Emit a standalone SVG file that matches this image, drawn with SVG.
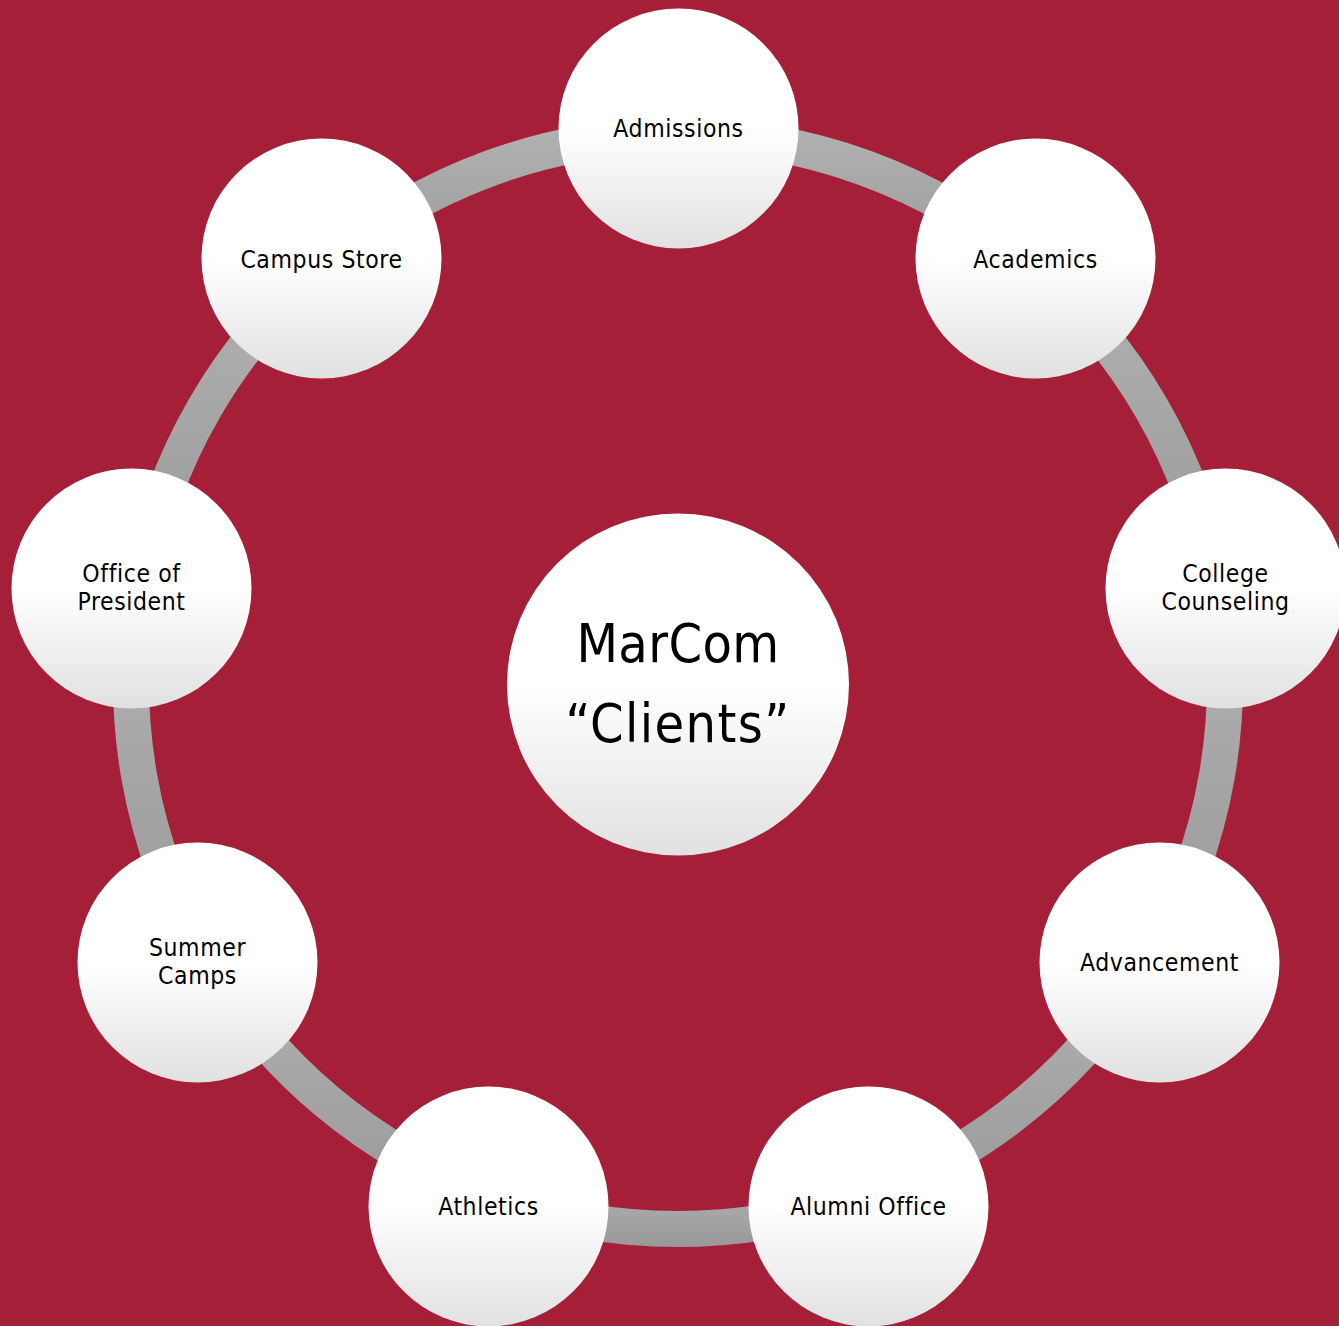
<svg xmlns="http://www.w3.org/2000/svg" width="1339" height="1326" viewBox="0 0 1339 1326">
  <defs>
    <linearGradient id="bubble" x1="0" y1="0" x2="0" y2="1">
      <stop offset="0" stop-color="#ffffff"/>
      <stop offset="0.5" stop-color="#ffffff"/>
      <stop offset="1" stop-color="#e1e1e1"/>
    </linearGradient>
    <linearGradient id="band" x1="0" y1="0" x2="0" y2="1">
      <stop offset="0" stop-color="#b3b3b3"/>
      <stop offset="1" stop-color="#999999"/>
    </linearGradient>
    <style>
      .ring { fill: url(#band); }
      .bubble { fill: url(#bubble); }
      .label { font-family: "DejaVu Sans Condensed", "DejaVu Sans", sans-serif; font-size: 24.5px; letter-spacing: 0.6px; fill: #000; text-anchor: middle; }
      .title { font-family: "DejaVu Sans Condensed", "DejaVu Sans", sans-serif; font-size: 53.5px; letter-spacing: 0.4px; fill: #000; text-anchor: middle; }
      .quoted { letter-spacing: 1.4px; }
    </style>
  </defs>

  <rect width="1339" height="1326" fill="#a41f37"/>

  <!-- ring segments between neighbouring nodes (annular sectors, 40° each) -->
  <g id="connectors">
    <path class="ring" d="M678,117 A565,565 0 0 1 1041.2,249.2 L1018,276.8 A529,529 0 0 0 678,153 Z"/>
    <path class="ring" d="M1041.2,249.2 A565,565 0 0 1 1234.4,583.9 L1199,590.2 A529,529 0 0 0 1018,276.8 Z"/>
    <path class="ring" d="M1234.4,583.9 A565,565 0 0 1 1167.3,964.5 L1136.1,946.5 A529,529 0 0 0 1199,590.2 Z"/>
    <path class="ring" d="M1167.3,964.5 A565,565 0 0 1 871.2,1212.9 L858.9,1179.1 A529,529 0 0 0 1136.1,946.5 Z"/>
    <path class="ring" d="M871.2,1212.9 A565,565 0 0 1 484.8,1212.9 L497.1,1179.1 A529,529 0 0 0 858.9,1179.1 Z"/>
    <path class="ring" d="M484.8,1212.9 A565,565 0 0 1 188.7,964.5 L219.9,946.5 A529,529 0 0 0 497.1,1179.1 Z"/>
    <path class="ring" d="M188.7,964.5 A565,565 0 0 1 121.6,583.9 L157,590.2 A529,529 0 0 0 219.9,946.5 Z"/>
    <path class="ring" d="M121.6,583.9 A565,565 0 0 1 314.8,249.2 L338,276.8 A529,529 0 0 0 157,590.2 Z"/>
    <path class="ring" d="M314.8,249.2 A565,565 0 0 1 678,117 L678,153 A529,529 0 0 0 338,276.8 Z"/>
  </g>

  <g id="admissions">
    <circle class="bubble" cx="678.5" cy="128.5" r="120"/>
    <text class="label" x="678.5" y="137">Admissions</text>
  </g>
  <g id="academics">
    <circle class="bubble" cx="1035.5" cy="258.5" r="120"/>
    <text class="label" x="1035.5" y="268">Academics</text>
  </g>
  <g id="college-counseling">
    <circle class="bubble" cx="1225.5" cy="588.5" r="120"/>
    <text class="label" x="1225.5" y="582">College</text>
    <text class="label" x="1225.5" y="610">Counseling</text>
  </g>
  <g id="advancement">
    <circle class="bubble" cx="1159.5" cy="962.5" r="120"/>
    <text class="label" x="1159.5" y="971">Advancement</text>
  </g>
  <g id="alumni-office">
    <circle class="bubble" cx="868.5" cy="1206.5" r="120"/>
    <text class="label" x="868.5" y="1215">Alumni Office</text>
  </g>
  <g id="athletics">
    <circle class="bubble" cx="488.5" cy="1206.5" r="120"/>
    <text class="label" x="488.5" y="1215">Athletics</text>
  </g>
  <g id="summer-camps">
    <circle class="bubble" cx="197.5" cy="962.5" r="120"/>
    <text class="label" x="197.5" y="956">Summer</text>
    <text class="label" x="197.5" y="984">Camps</text>
  </g>
  <g id="office-of-president">
    <circle class="bubble" cx="131.5" cy="588.5" r="120"/>
    <text class="label" x="131.5" y="582">Office of</text>
    <text class="label" x="131.5" y="610">President</text>
  </g>
  <g id="campus-store">
    <circle class="bubble" cx="321.5" cy="258.5" r="120"/>
    <text class="label" x="321.5" y="268">Campus Store</text>
  </g>

  <g id="marcom-clients">
    <circle class="bubble" cx="678" cy="684.5" r="171"/>
    <text class="title" x="678" y="662">MarCom</text>
    <text class="title quoted" x="678" y="742">“Clients”</text>
  </g>
</svg>
